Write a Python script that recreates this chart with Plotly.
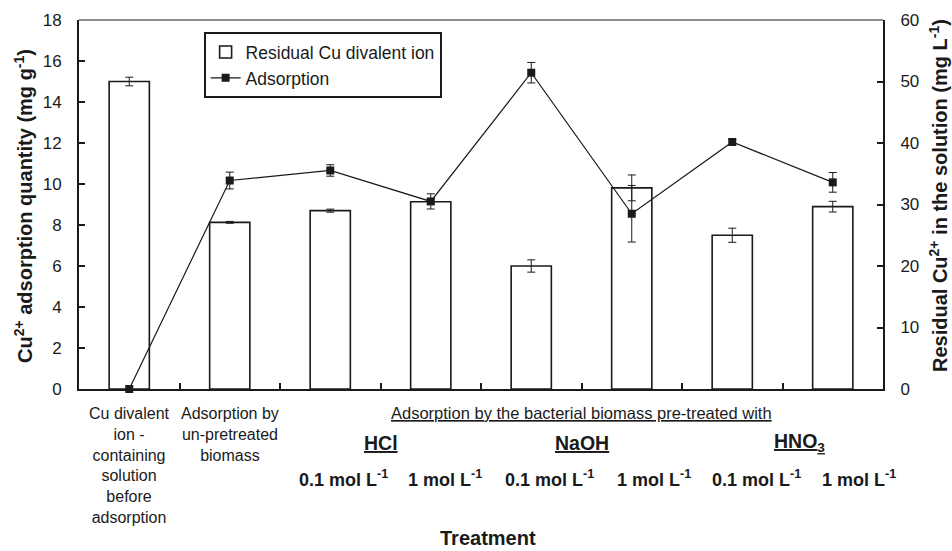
import plotly.graph_objects as go

categories = ["c1", "c2", "c3", "c4", "c5", "c6", "c7", "c8"]
residual_cu = [50.0, 27.1, 29.0, 30.45, 20.0, 32.7, 25.0, 29.65]      # mg L-1 (right axis)
residual_err = [0.7, 0.15, 0.25, 0.4, 1.0, 2.1, 1.15, 0.87]
adsorption = [0.0, 10.17, 10.66, 9.15, 15.43, 8.55, 12.05, 10.08]     # mg g-1 (left axis)
adsorption_err = [0.0, 0.41, 0.28, 0.37, 0.5, 1.38, 0.12, 0.48]

cat_labels = [
    "Cu divalent<br>ion -<br>containing<br>solution<br>before<br>adsorption",
    "Adsorption by<br>un-pretreated<br>biomass",
]
conc_labels = ["0.1 mol L<sup>-1</sup>", "1 mol L<sup>-1</sup>"] * 3
acid_labels = ["HCl", "NaOH", "HNO<sub>3</sub>"]
left_ticks = [0, 2, 4, 6, 8, 10, 12, 14, 16, 18]
right_ticks = [0, 10, 20, 30, 40, 50, 60]

FONT = "Arial, Liberation Sans, sans-serif"
TXT = "#1a1a1a"

fig = go.Figure()
fig.add_trace(go.Bar(
    x=categories, y=residual_cu, name="Residual Cu divalent ion",
    width=0.4, marker=dict(color="white", line=dict(color="#1a1a1a", width=1.6)),
    error_y=dict(type="data", array=residual_err, color="#1a1a1a", thickness=1, width=4),
    yaxis="y",
))
fig.add_trace(go.Scatter(
    x=categories, y=adsorption, name="Adsorption", mode="lines+markers",
    line=dict(color="#1a1a1a", width=1.2),
    marker=dict(symbol="square", size=8, color="#1a1a1a"),
    error_y=dict(type="data", array=adsorption_err, color="#1a1a1a", thickness=1, width=4),
    yaxis="y2", cliponaxis=False,
))

fig.update_layout(
    width=952, height=551,
    margin=dict(l=79, r=69, t=20, b=162),
    paper_bgcolor="white", plot_bgcolor="white",
    font=dict(family=FONT, size=16, color=TXT),
    showlegend=True,
    legend=dict(x=0.155, y=0.967, xanchor="left", yanchor="top",
                bordercolor="#1a1a1a", borderwidth=2, bgcolor="white",
                font=dict(size=17.5), tracegroupgap=0),
    xaxis=dict(type="category", categoryorder="array", categoryarray=categories,
               range=[-0.5, 7.5], showticklabels=False, tickson="boundaries",
               ticks="inside", ticklen=6, tickcolor="#1a1a1a", tickwidth=1.5,
               showline=True, linecolor="#1a1a1a", linewidth=2, showgrid=False,
               zeroline=False),
    yaxis=dict(side="right", range=[0, 60], tickvals=right_ticks,
               ticks="inside", ticklen=6, tickcolor="#1a1a1a", tickwidth=1.5,
               showline=True, linecolor="#1a1a1a", linewidth=2, showgrid=False,
               zeroline=False, ticklabelstandoff=12, tickfont=dict(size=17)),
    yaxis2=dict(side="left", overlaying="y", range=[0, 18], tickvals=left_ticks,
                ticks="inside", ticklen=6, tickcolor="#1a1a1a", tickwidth=1.5,
                showline=True, linecolor="#1a1a1a", linewidth=2, showgrid=False,
                zeroline=False, ticklabelstandoff=12, tickfont=dict(size=17)),
)

# top frame line
fig.add_shape(type="line", xref="paper", yref="paper", x0=0, x1=1, y0=1, y1=1,
              line=dict(color="#1a1a1a", width=1.2))

def py(pix):
    return (389 - pix) / 369.0

def px(pix):
    return (pix - 79) / 804.0

ann = []
# first two category labels
for i, lab in enumerate(cat_labels):
    ann.append(dict(x=categories[i], xref="x", y=py(403), yref="paper", yanchor="top",
                    text=lab, showarrow=False, font=dict(size=16, color=TXT),
                    align="center"))
# group header
ann.append(dict(x=4.5, xref="x", y=py(413), yref="paper", yanchor="middle",
                text="<u>Adsorption by the bacterial biomass pre-treated with</u>",
                showarrow=False, font=dict(size=16.5, color=TXT)))
# acid names
acid_shift = [0, 0, 17]
for j, acid in enumerate(acid_labels):
    ann.append(dict(x=2.5 + 2 * j, xref="x", y=py(443), yref="paper", yanchor="middle",
                    xshift=acid_shift[j], text="<b><u>" + acid + "</u></b>", showarrow=False,
                    font=dict(size=19.5, color=TXT)))
# concentrations
conc_shift = [13, 14, 18, 22, 24, 26]
for k, lab in enumerate(conc_labels):
    ann.append(dict(x=categories[k + 2], xref="x", y=py(478), yref="paper",
                    yanchor="middle", xshift=conc_shift[k], text="<b>" + lab + "</b>",
                    showarrow=False, font=dict(size=18, color=TXT)))
# x title
ann.append(dict(x=px(488), xref="paper", y=py(538), yref="paper", yanchor="middle",
                xanchor="center", text="<b>Treatment</b>", showarrow=False,
                font=dict(size=20, color=TXT)))
# y titles
ann.append(dict(x=px(23), xref="paper", y=py(206), yref="paper", xanchor="center",
                yanchor="middle",
                text="<b>Cu<sup>2+</sup> adsorption quantity (mg g<sup>-1</sup>)</b>",
                textangle=-90, showarrow=False, font=dict(size=20, color=TXT)))
ann.append(dict(x=px(938), xref="paper", y=py(196), yref="paper", xanchor="center",
                yanchor="middle",
                text="<b>Residual Cu<sup>2+</sup> in the solution (mg L<sup>-1</sup>)</b>",
                textangle=-90, showarrow=False, font=dict(size=20, color=TXT)))
fig.update_layout(annotations=ann)

fig.write_html("out.html")
